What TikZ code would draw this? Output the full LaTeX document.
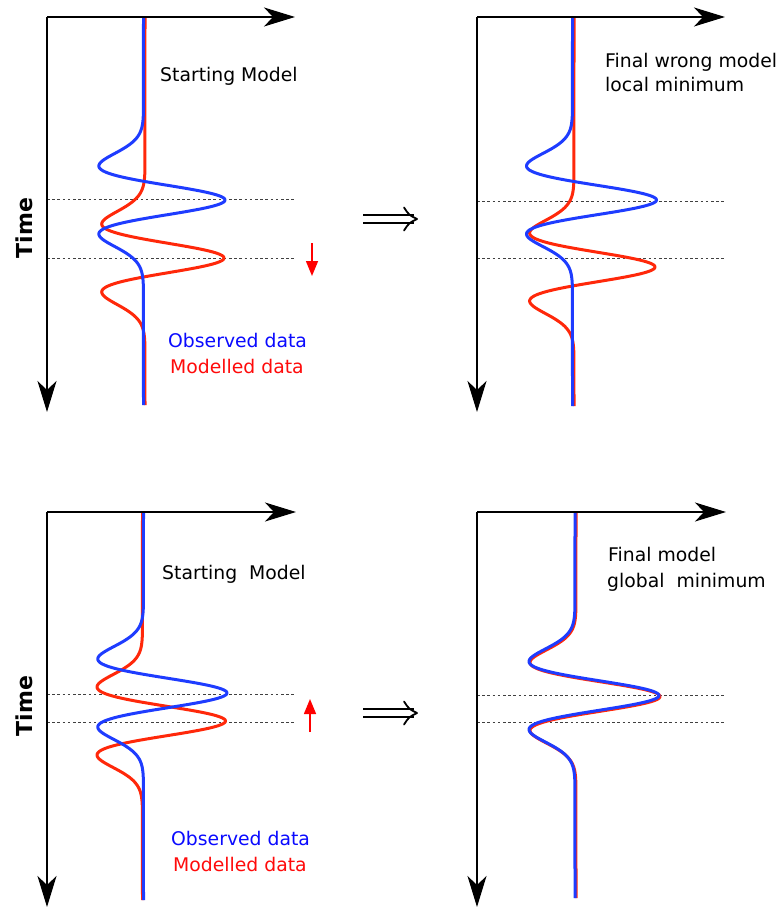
\documentclass[tikz,border=0pt]{standalone}
\usepackage{fontspec}
\setmainfont{DejaVu Sans}
\usetikzlibrary{arrows.meta}
\definecolor{tblue}{RGB}{30,60,255}
\definecolor{tred}{RGB}{255,40,10}
\definecolor{lblue}{RGB}{10,10,255}
\definecolor{lred}{RGB}{255,10,10}
\newcommand\wavetrace[7]{% colour, base x, centre y, amplitude, top y, bottom y, domain
  \draw[trace,#1] (#2,#5) -- plot[domain=#7, samples=201, variable=\t] ({#2+#4*rk((\t-#3)/28.4)}, \t) -- (#2,#6);}
\newcommand\implhead[1]{% tip coordinate name
  \draw[line width=1.8pt, line cap=round, line join=round]
    ([shift={(-13,-11.5)}]#1) .. controls ([shift={(-8,-4)}]#1) .. (#1)
    .. controls ([shift={(-8,4)}]#1) .. ([shift={(-13,11.5)}]#1);}
\begin{document}
\begin{tikzpicture}[x=1pt,y=-1pt,
  declare function={rk(\u)=(1-2.3*\u*\u)*exp(-\u*\u);},
  axis/.style={line width=1.9pt, -{Stealth[length=31pt,width=19pt,inset=9pt]}},
  trace/.style={line width=3pt, line join=round},
  guide/.style={line width=0.8pt, black!75, dash pattern=on 2.6pt off 2.6pt},
  shiftarrow/.style={red, line width=1.5pt, -{Triangle[length=15pt,width=12pt]}},
  implarrow/.style={double, line width=1.8pt, double distance=5.5pt, shorten >=3pt},
  lbl/.style={anchor=base west, inner sep=0pt, font=\fontsize{18.8}{22}\selectfont},
  timelbl/.style={rotate=90, inner sep=0pt, font=\fontsize{22}{26}\selectfont\bfseries}]
\useasboundingbox (0,0) rectangle (782,909);

% ---------- panel 1 (top left) ----------
\coordinate (o1) at (47,17);
\coordinate (x1) at (295,17);
\coordinate (y1) at (47,412);
\draw[guide] (47,199.5) -- (295,199.5);
\draw[guide] (47,258) -- (295,258);
\wavetrace{tred}{145}{258}{79}{18}{405}{158:358}
\wavetrace{tblue}{143.5}{200}{81.5}{18}{405}{100:300}
\draw[axis] (o1) -- (x1);
\draw[axis] (o1) -- (y1);
\node[lbl] (sm1) at (160,82) {Starting Model};
\node[lbl, text=lblue] (ob1) at (168,347) {Observed data};
\node[lbl, text=lred] (mo1) at (170,373) {Modelled data};
\node[timelbl] (t1) at (24,228) {Time};
\coordinate (r1a) at (312,243);
\coordinate (r1b) at (312,276);
\draw[shiftarrow] (r1a) -- (r1b);
\coordinate (i1a) at (363,219);
\coordinate (i1b) at (417,219);
\draw[implarrow] (i1a) -- (i1b);
\implhead{i1b}

% ---------- panel 2 (top right) ----------
\coordinate (o2) at (477,17);
\coordinate (x2) at (725,17);
\coordinate (y2) at (477,412);
\draw[guide] (477,201) -- (725,201);
\draw[guide] (477,258.5) -- (725,258.5);
\wavetrace{tred}{574}{267}{81}{18}{406}{167:367}
\wavetrace{tblue}{572.5}{200}{84}{18}{406}{100:300}
\draw[axis] (o2) -- (x2);
\draw[axis] (o2) -- (y2);
\node[lbl] (fw2) at (605,68) {Final wrong model};
\node[lbl] (lm2) at (605,92) {local minimum};

% ---------- panel 3 (bottom left) ----------
\coordinate (o3) at (47,512);
\coordinate (x3) at (296,512);
\coordinate (y3) at (47,907);
\draw[guide] (47,694) -- (296,694);
\draw[guide] (47,722) -- (296,722);
\wavetrace{tred}{142.5}{721}{83}{513}{900}{621:821}
\wavetrace{tblue}{143.5}{693}{83.5}{513}{900}{593:793}
\draw[axis] (o3) -- (x3);
\draw[axis] (o3) -- (y3);
\node[lbl] (sm3) at (162,579) {Starting~~Model};
\node[lbl, text=lblue] (ob3) at (171,845) {Observed data};
\node[lbl, text=lred] (mo3) at (173,871) {Modelled data};
\node[timelbl] (t3) at (24,706) {Time};
\coordinate (r3a) at (310,732);
\coordinate (r3b) at (310,699);
\draw[shiftarrow] (r3a) -- (r3b);
\coordinate (i3a) at (363,713);
\coordinate (i3b) at (417,713);
\draw[implarrow] (i3a) -- (i3b);
\implhead{i3b}

% ---------- panel 4 (bottom right) ----------
\coordinate (o4) at (477,512);
\coordinate (x4) at (726,512);
\coordinate (y4) at (477,907);
\draw[guide] (477,695.5) -- (726,695.5);
\draw[guide] (477,722.5) -- (726,722.5);
\wavetrace{tred}{576}{696.5}{84}{513}{898}{596:796}
\wavetrace{tblue}{575}{695.5}{84}{513}{898}{595:795}
\draw[axis] (o4) -- (x4);
\draw[axis] (o4) -- (y4);
\node[lbl] (fm4) at (608,561) {Final model};
\node[lbl] (gm4) at (607,587) {global~~minimum};
\end{tikzpicture}
\end{document}
